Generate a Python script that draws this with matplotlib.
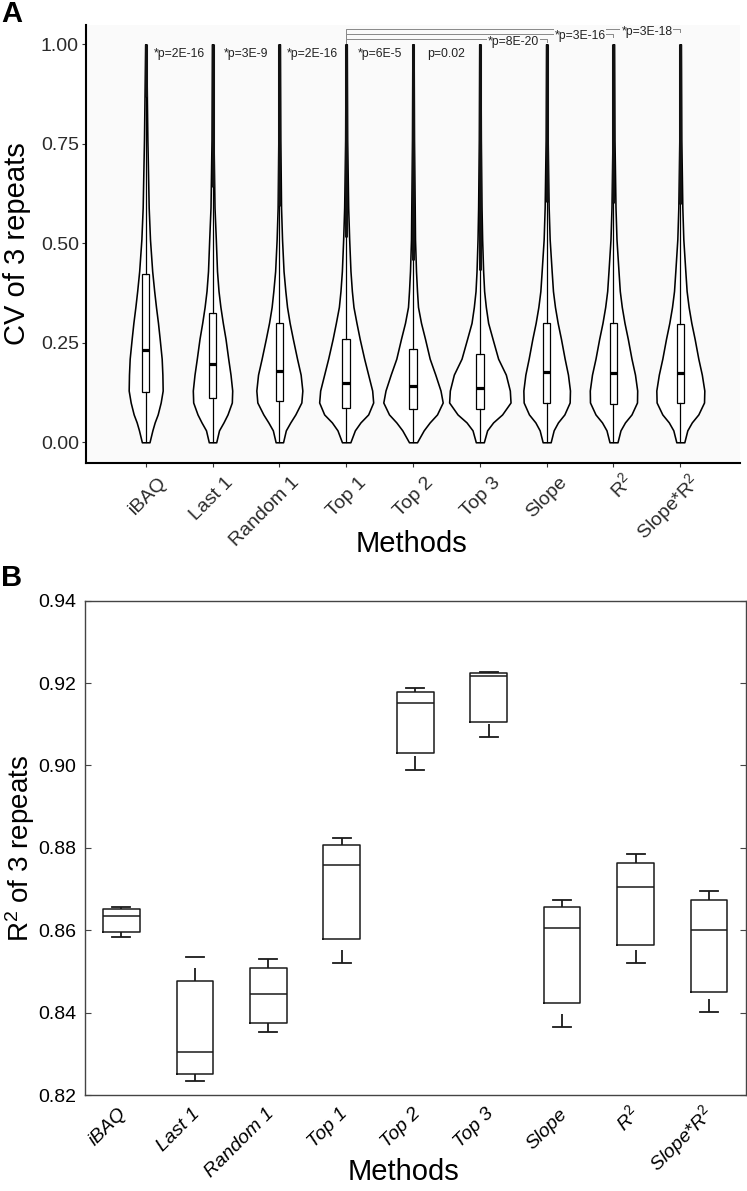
import numpy as np
import matplotlib
matplotlib.use('Agg')
import matplotlib.pyplot as plt
from matplotlib.transforms import ScaledTranslation

plt.rcParams['font.family'] = ['Liberation Sans', 'DejaVu Sans']
plt.rcParams['mathtext.fontset'] = 'custom'
plt.rcParams['mathtext.rm'] = 'Liberation Sans'
plt.rcParams['mathtext.it'] = 'Liberation Sans:italic'
plt.rcParams['mathtext.bf'] = 'Liberation Sans:bold'

# ---------------- data ----------------
methods_a = ['iBAQ', 'Last 1', 'Random 1', 'Top 1', 'Top 2', 'Top 3', 'Slope',
             r'$\mathregular{R^2}$', r'Slope*$\mathregular{R^2}$']
methods_b = ['iBAQ', 'Last 1', 'Random 1', 'Top 1', 'Top 2', 'Top 3', 'Slope',
             r'$\mathit{R^2}$', r'Slope*$\mathit{R^2}$']

# Panel A: CV of 3 repeats (violin + box)
cv_min = [0.0] * 9
cv_max = [1.0] * 9
cv_q1 = [0.127, 0.112, 0.104, 0.087, 0.084, 0.083, 0.098, 0.097, 0.098]
cv_median = [0.231, 0.197, 0.179, 0.149, 0.142, 0.137, 0.176, 0.174, 0.174]
cv_q3 = [0.423, 0.324, 0.300, 0.259, 0.234, 0.223, 0.300, 0.299, 0.298]

cv_grid = [0.0, 0.03, 0.05, 0.07, 0.10, 0.13, 0.17, 0.21, 0.26, 0.30, 0.34,
           0.38, 0.43, 0.51, 0.59, 0.76, 1.0]
cv_density = [
    [3.8, 6.7, 9.0, 12.0, 15.0, 17.0, 16.7, 16.0, 14.0, 12.3, 10.3, 8.5, 6.5, 4.3, 3.0, 1.7, 0.5],
    [3.7, 6.5, 11.0, 15.0, 19.3, 19.7, 18.0, 15.7, 13.0, 10.3, 7.9, 6.0, 4.5, 3.3, 2.0, 1.0, 0.6],
    [3.7, 6.5, 11.0, 16.0, 22.0, 23.0, 21.3, 17.7, 13.5, 10.3, 7.7, 6.0, 4.2, 2.7, 1.7, 1.0, 0.6],
    [4.2, 8.7, 14.3, 22.0, 27.0, 26.0, 22.0, 18.0, 13.5, 10.3, 7.3, 5.7, 4.3, 3.0, 2.0, 1.0, 0.6],
    [4.0, 10.7, 16.7, 24.0, 29.7, 27.5, 22.3, 16.7, 12.0, 8.0, 5.0, 4.0, 3.0, 2.0, 1.7, 1.0, 0.6],
    [4.0, 7.3, 13.3, 22.3, 30.7, 30.0, 26.0, 18.3, 12.7, 8.3, 6.0, 4.3, 3.3, 2.3, 1.7, 1.0, 0.6],
    [4.0, 7.0, 11.3, 17.7, 23.0, 23.3, 21.3, 18.0, 14.3, 11.0, 8.3, 6.3, 5.0, 3.0, 2.0, 1.0, 0.6],
    [4.0, 7.0, 11.5, 18.0, 23.5, 23.7, 21.5, 18.0, 14.3, 11.0, 8.3, 6.3, 5.0, 3.0, 2.0, 1.0, 0.6],
    [4.0, 7.0, 11.5, 18.0, 23.7, 24.0, 21.5, 18.0, 14.3, 11.0, 8.3, 6.3, 5.0, 3.0, 2.0, 1.0, 0.6],
]

adjacent_p = ['*p=2E-16', '*p=3E-9', '*p=2E-16', '*p=6E-5', 'p=0.02']
bracket_ref = 3
bracket_targets = [6, 7, 8]
bracket_p = ['*p=8E-20', '*p=3E-16', '*p=3E-18']

# Panel B: R^2 of 3 repeats (box plots)
r2_whislo = [0.8583, 0.8234, 0.8353, 0.8520, 0.8990, 0.9069, 0.8365, 0.8520, 0.8401]
r2_q1 = [0.8596, 0.8252, 0.8375, 0.8579, 0.9030, 0.9106, 0.8424, 0.8565, 0.8451]
r2_median = [0.8634, 0.8305, 0.8444, 0.8758, 0.9151, 0.9216, 0.8605, 0.8704, 0.8600]
r2_q3 = [0.8651, 0.8477, 0.8509, 0.8807, 0.9179, 0.9224, 0.8657, 0.8764, 0.8673]
r2_whishi = [0.86565, 0.8535, 0.8530, 0.8823, 0.9189, 0.9228, 0.8674, 0.8785, 0.8696]

# ---------------- figure ----------------
W, H = 747, 1191
fig = plt.figure(figsize=(W / 100, H / 100), dpi=100)

# ===== Panel A =====
axA = fig.add_axes([86 / W, 1 - 463.3 / H, 654 / W, 438.3 / H])
axA.set_facecolor('#fafafa')
pos = np.arange(len(methods_a))
px_per_unit = 66.83  # x pixels per category unit

vpstats = []
vwidths = []
for i in range(len(methods_a)):
    dens = np.array(cv_density[i])
    vpstats.append(dict(coords=np.array(cv_grid), vals=dens,
                        mean=cv_median[i], median=cv_median[i],
                        min=cv_min[i], max=cv_max[i], quantiles=[]))
    vwidths.append(2 * dens.max() / px_per_unit)
vp = axA.violin(vpstats, positions=pos, widths=vwidths,
                showmeans=False, showextrema=False, showmedians=False)
for b in vp['bodies']:
    b.set_facecolor('white')
    b.set_edgecolor('black')
    b.set_linewidth(1.15)
    b.set_joinstyle('round')
    b.set_alpha(1)
    b.set_zorder(2)

whis_hi = [min(q3 + 1.5 * (q3 - q1), mx) for q1, q3, mx in zip(cv_q1, cv_q3, cv_max)]
# outliers (dense strip of points)
axA.vlines(pos, whis_hi, cv_max, color='#111111', lw=2.2, zorder=3)

statsA = [dict(med=m, q1=a, q3=b, whislo=lo, whishi=hi, fliers=[])
          for m, a, b, lo, hi in zip(cv_median, cv_q1, cv_q3, cv_min, whis_hi)]
axA.bxp(statsA, positions=pos, widths=0.112, showcaps=False, showfliers=False,
        patch_artist=True, manage_ticks=False,
        boxprops=dict(facecolor='white', edgecolor='black', linewidth=0.9),
        medianprops=dict(color='black', linewidth=2.3, solid_capstyle='butt'),
        whiskerprops=dict(color='black', linewidth=0.9), zorder=4)

axA.set_xlim(-0.893, 8.893)
axA.set_ylim(-0.0528, 1.0485)
axA.set_yticks([0, 0.25, 0.5, 0.75, 1.0])
axA.set_yticklabels(['0.00', '0.25', '0.50', '0.75', '1.00'])
axA.set_xticks(pos)
axA.set_xticklabels(methods_a)
for s in ['top', 'right']:
    axA.spines[s].set_visible(False)
for s in ['left', 'bottom']:
    axA.spines[s].set_linewidth(1.5)
    axA.spines[s].set_color('black')
axA.tick_params(axis='both', direction='out', length=3.2, width=0.8, color='#333333',
                labelsize=14, labelcolor='#2b2b2b')
axA.tick_params(axis='y', pad=2)
axA.tick_params(axis='x', pad=11)
offA = ScaledTranslation(0.21, 0, fig.dpi_scale_trans)
for lab in axA.get_xticklabels():
    lab.set_rotation(45)
    lab.set_ha('right')
    lab.set_va('baseline')
    lab.set_rotation_mode('anchor')
    lab.set_transform(lab.get_transform() + offA)

for i, t in enumerate(adjacent_p):
    axA.text(pos[i] + 0.5, 0.976, t, ha='center', va='center', fontsize=8.8,
             color='#222222', zorder=6)

levels = [1.013, 1.026, 1.038]
for tgt, txt, lvl in zip(bracket_targets, bracket_p, levels):
    axA.plot([bracket_ref, bracket_ref, tgt, tgt], [1.003, lvl, lvl, lvl - 0.008],
             color='#888888', lw=0.7, clip_on=False, zorder=5)
    axA.text(tgt - 0.5, lvl - 0.006, txt, ha='center', va='center', fontsize=8.8,
             color='#222222', zorder=6, clip_on=False,
             bbox=dict(facecolor='#fafafa', edgecolor='none', pad=0.6))

fig.text(412 / W, 1 - 544 / H, 'Methods', ha='center', va='center', fontsize=21)
fig.text(17 / W, 1 - 244 / H, 'CV of 3 repeats', ha='center', va='center',
         rotation=90, fontsize=21)
fig.text(1 / W, 1 - 14 / H, 'A', ha='left', va='center', fontsize=21, fontweight='bold')

# ===== Panel B =====
axB = fig.add_axes([84.7 / W, 1 - 1095 / H, 661 / W, 494.3 / H])
posB = np.arange(len(methods_b))
statsB = [dict(med=m, q1=a, q3=b, whislo=lo, whishi=hi, fliers=[])
          for m, a, b, lo, hi in zip(r2_median, r2_q1, r2_q3, r2_whislo, r2_whishi)]
axB.bxp(statsB, positions=posB, widths=0.5, capwidths=0.245, showfliers=False,
        manage_ticks=False,
        boxprops=dict(color='#1a1a1a', linewidth=1.1),
        medianprops=dict(color='#1a1a1a', linewidth=1.1),
        capprops=dict(color='#1a1a1a', linewidth=1.3),
        whiskerprops=dict(linewidth=0))
# whisker stems (drawn with a limited length as in the original figure)
L = 0.0032
up_end = [min(hi, q3 + L) for q3, hi in zip(r2_q3, r2_whishi)]
lo_end = [min(q1, lo + L) for q1, lo in zip(r2_q1, r2_whislo)]
axB.vlines(posB, r2_q3, up_end, color='#1a1a1a', lw=1.3)
axB.vlines(posB, r2_whislo, lo_end, color='#1a1a1a', lw=1.3)

axB.set_xlim(-0.5, 8.5)
axB.set_ylim(0.82, 0.94)
yt = [0.82, 0.84, 0.86, 0.88, 0.90, 0.92, 0.94]
axB.set_yticks(yt)
axB.set_yticklabels([f'{v:.2f}' for v in yt])
axB.set_xticks(posB)
axB.set_xticklabels(methods_b)
for s in axB.spines.values():
    s.set_linewidth(1.0)
    s.set_color('#444444')
axB.tick_params(axis='y', direction='in', length=4, width=0.8, left=True, right=True,
                labelsize=14, pad=6, color='#444444')
axB.tick_params(axis='x', length=0, labelsize=14, pad=14)
offB = ScaledTranslation(0.06, 0, fig.dpi_scale_trans)
for lab in axB.get_xticklabels():
    lab.set_rotation(45)
    lab.set_ha('right')
    lab.set_va('baseline')
    lab.set_rotation_mode('anchor')
    lab.set_fontstyle('italic')
    lab.set_transform(lab.get_transform() + offB)

fig.text(403 / W, 1 - 1172 / H, 'Methods', ha='center', va='center', fontsize=21)
fig.text(20 / W, 1 - 848 / H, r'$\mathregular{R^2}$ of 3 repeats', ha='center',
         va='center', rotation=90, fontsize=20)
fig.text(1 / W, 1 - 578 / H, 'B', ha='left', va='center', fontsize=21, fontweight='bold')

fig.savefig('out.png', dpi=100)
